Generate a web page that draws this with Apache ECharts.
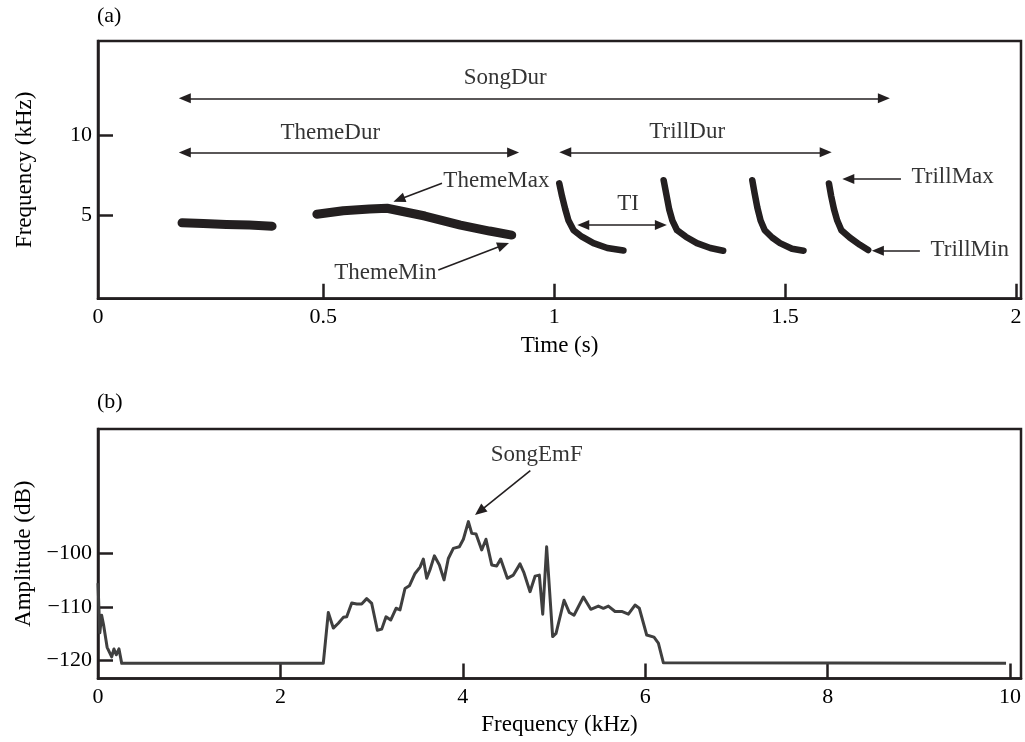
<!DOCTYPE html>
<html>
<head>
<meta charset="utf-8">
<script src="https://cdn.jsdelivr.net/npm/echarts@6/dist/echarts.min.js"></script>
<style>
  body { margin: 0; background: #fff; }
  #chart { width: 1025px; height: 742px; }
</style>
</head>
<body>
<div id="chart"></div>
<script>
// panel (a): spectrogram traces, [time s, frequency kHz]
const themeNote1 = [[0.194, 4.56], [0.24, 4.52], [0.29, 4.46], [0.34, 4.42], [0.389, 4.35]];
const themeNote2 = [[0.486, 5.09], [0.543, 5.31], [0.6, 5.42], [0.638, 5.46], [0.72, 4.98], [0.797, 4.42], [0.86, 4.05], [0.908, 3.8]];
const trill1 = [[1.011, 7.0], [1.017, 6.2], [1.024, 5.4], [1.031, 4.7], [1.042, 4.1], [1.06, 3.7], [1.085, 3.3], [1.115, 3.0], [1.15, 2.85]];
const trill2 = [[1.237, 7.2], [1.243, 6.3], [1.249, 5.4], [1.256, 4.7], [1.266, 4.1], [1.285, 3.7], [1.309, 3.3], [1.338, 3.0], [1.366, 2.83]];
const trill3 = [[1.429, 7.2], [1.434, 6.4], [1.44, 5.5], [1.447, 4.7], [1.456, 4.1], [1.472, 3.65], [1.489, 3.3], [1.515, 2.95], [1.54, 2.83]];
const trill4 = [[1.595, 7.0], [1.6, 6.2], [1.606, 5.4], [1.613, 4.7], [1.622, 4.1], [1.64, 3.65], [1.662, 3.2], [1.68, 2.87]];

// panel (b): amplitude spectrum, [frequency kHz, amplitude dB]
const spectrum = [
  [0, -105.5], [0.02, -114.8], [0.04, -111.5], [0.06, -113.2], [0.1, -117.5], [0.15, -119.3],
  [0.175, -117.8], [0.2, -118.9], [0.23, -117.8], [0.26, -120.5], [2.47, -120.5], [2.525, -111.0],
  [2.58, -113.9], [2.635, -113.0], [2.69, -111.9], [2.727, -111.8], [2.782, -109.2], [2.837, -109.4],
  [2.891, -109.4], [2.946, -108.4], [3.001, -109.3], [3.063, -114.3], [3.111, -114.1], [3.158, -111.8],
  [3.209, -112.4], [3.268, -110.2], [3.311, -110.5], [3.366, -106.5], [3.414, -106.0], [3.476, -103.7],
  [3.531, -102.5], [3.567, -101.0], [3.604, -104.6], [3.64, -103.0], [3.688, -100.4], [3.743, -102.1],
  [3.794, -104.9], [3.841, -100.9], [3.896, -99.0], [3.962, -98.7], [4.006, -97.3], [4.061, -94.0],
  [4.098, -96.2], [4.145, -96.3], [4.207, -99.3], [4.254, -97.3], [4.317, -102.1], [4.371, -102.3],
  [4.415, -101.0], [4.488, -104.6], [4.554, -104.0], [4.627, -101.9], [4.671, -103.6], [4.737, -107.1],
  [4.792, -104.2], [4.839, -104.0], [4.876, -111.3], [4.919, -98.7], [4.985, -115.5], [5.022, -114.9],
  [5.11, -108.7], [5.168, -111.0], [5.219, -111.5], [5.322, -108.1], [5.403, -110.4], [5.486, -109.8],
  [5.541, -110.2], [5.596, -109.8], [5.669, -110.8], [5.742, -110.8], [5.815, -111.3], [5.888, -109.6],
  [5.935, -110.2], [6.016, -115.2], [6.096, -115.6], [6.144, -116.7], [6.199, -120.4], [9.956, -120.5]
];

// tick values
const timeTicks = [0.5, 1, 1.5, 2];
const freqTicksA = [5, 10];
const freqTicksB = [0, 2, 4, 6, 8, 10];
const ampTicks = [-120, -110, -100];

// annotations: double arrows [from, to, level], pointers [tailX, tailY, headX, headY]
const spanArrows = [[0.2, 1.714, 12.27], [0.2, 0.911, 8.92], [1.024, 1.588, 8.93], [1.063, 1.231, 4.42]];
const pointersA = [[0.757, 7.01, 0.664, 6.0], [0.749, 1.64, 0.89, 3.18], [1.751, 7.27, 1.637, 7.27], [1.792, 2.83, 1.701, 2.83]];
const pointersB = [[4.74, -84.49, 4.185, -92.07]];
const labelsA = [
  ['SongDur', 0.894, 13.53, 'center'], ['ThemeDur', 0.515, 10.14, 'center'], ['TrillDur', 1.288, 10.2, 'center'],
  ['TI', 1.16, 5.72, 'center'], ['ThemeMax', 0.76, 7.15, 'left'], ['ThemeMin', 0.745, 1.45, 'right'],
  ['TrillMax', 1.774, 7.42, 'left'], ['TrillMin', 1.815, 2.87, 'left']
];
const labelsB = [['SongEmF', 4.81, -81.55, 'center']];

const ink = '#231f20';
const serif = 'Liberation Serif';

function minus(v) {
  return v < 0 ? '\u2212' + Math.abs(v) : String(v);
}

function font(size, extra) {
  return Object.assign({ fontSize: size, fontFamily: serif, color: '#000' }, extra);
}

function tick(values) {
  return { inside: true, length: 15, customValues: values, lineStyle: { color: ink, width: 2.5 } };
}

function axis(extra) {
  return Object.assign({
    type: 'value',
    nameLocation: 'middle',
    nameTextStyle: font(23),
    axisLine: { onZero: false, lineStyle: { color: ink, width: 2.5 } },
    splitLine: { show: false },
  }, extra);
}

function trace(data, width) {
  return {
    type: 'line',
    xAxisIndex: 0,
    yAxisIndex: 0,
    data: data,
    showSymbol: false,
    silent: true,
    lineStyle: { color: ink, width: width, cap: 'round', join: 'round' },
  };
}

function arrows(idx, list, both) {
  return {
    type: 'line',
    xAxisIndex: idx,
    yAxisIndex: idx,
    data: [],
    markLine: {
      silent: true,
      animation: false,
      symbol: both ? ['triangle', 'triangle'] : ['none', 'triangle'],
      symbolSize: [10, 12],
      label: { show: false },
      lineStyle: { color: ink, width: 1.6, type: 'solid' },
      data: list.map(a => both
        ? [{ coord: [a[0], a[2]] }, { coord: [a[1], a[2]] }]
        : [{ coord: [a[0], a[1]] }, { coord: [a[2], a[3]] }]),
    },
  };
}

function texts(idx, list) {
  return {
    type: 'scatter',
    xAxisIndex: idx,
    yAxisIndex: idx,
    symbolSize: 0,
    silent: true,
    label: font(23, { show: true, position: 'inside', formatter: '{b}' }),
    data: list.map(l => ({ name: l[0], value: [l[1], l[2]], label: { align: l[3] } })),
  };
}

const chart = echarts.init(document.getElementById('chart'));
chart.setOption({
  animation: false,
  title: [
    { text: '(a)', left: 97, top: 5, padding: 0, textStyle: font(22, { fontWeight: 'normal' }) },
    { text: '(b)', left: 97, top: 391, padding: 0, textStyle: font(22, { fontWeight: 'normal' }) },
  ],
  grid: [
    { left: 98, right: 4, top: 41, height: 257.7, show: true, borderColor: ink, borderWidth: 2.5 },
    { left: 98, right: 4, top: 429, height: 249.5, show: true, borderColor: ink, borderWidth: 2.5 },
  ],
  xAxis: [
    axis({
      gridIndex: 0, min: 0.012, max: 2.011, name: 'Time (s)', nameGap: 36,
      axisTick: tick(timeTicks),
      axisLabel: font(22, {
        margin: 8,
        customValues: [0.012].concat(timeTicks),
        formatter: v => (v < 0.1 ? '0' : String(v)),
      }),
    }),
    axis({
      gridIndex: 1, min: 0, max: 10.12, name: 'Frequency (kHz)', nameGap: 35,
      axisTick: tick(freqTicksB.slice(1)),
      axisLabel: font(22, { margin: 8, customValues: freqTicksB }),
    }),
  ],
  yAxis: [
    axis({
      gridIndex: 0, min: -0.14, max: 15.82, name: 'Frequency (kHz)', nameGap: 62,
      axisTick: tick(freqTicksA),
      axisLabel: font(22, { margin: 6, customValues: freqTicksA }),
    }),
    axis({
      gridIndex: 1, min: -123.33, max: -76.69, name: 'Amplitude (dB)', nameGap: 62,
      axisTick: tick(ampTicks),
      axisLabel: font(22, { margin: 6, customValues: ampTicks, formatter: minus }),
    }),
  ],
  series: [
    trace(themeNote1, 9),
    trace(themeNote2, 9),
    trace(trill1, 6.5),
    trace(trill2, 6.5),
    trace(trill3, 6.5),
    trace(trill4, 6.5),
    {
      type: 'line',
      xAxisIndex: 1,
      yAxisIndex: 1,
      data: spectrum,
      showSymbol: false,
      silent: true,
      lineStyle: { color: '#3f3f3f', width: 3, join: 'round' },
    },
    arrows(0, spanArrows, true),
    arrows(0, pointersA, false),
    arrows(1, pointersB, false),
    texts(0, labelsA),
    texts(1, labelsB),
  ],
});
</script>
</body>
</html>
